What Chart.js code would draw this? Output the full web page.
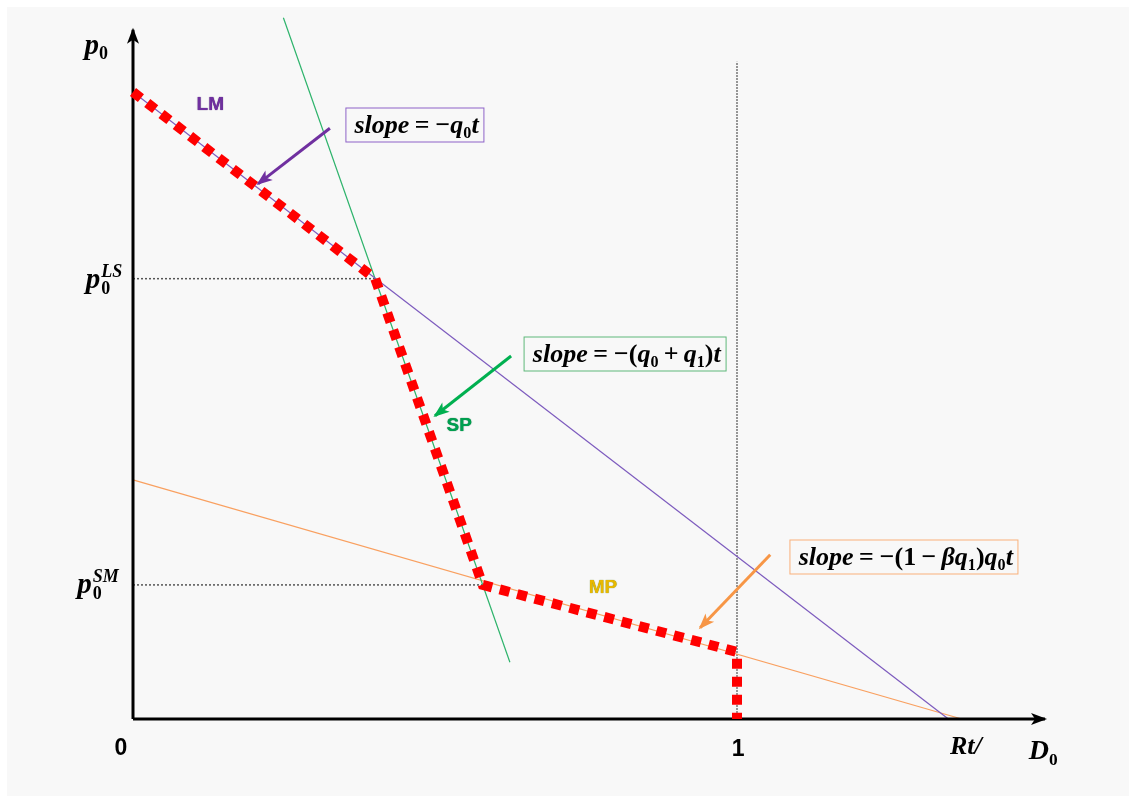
<!DOCTYPE html>
<html>
<head>
<meta charset="utf-8">
<script src="https://cdn.jsdelivr.net/npm/chart.js@4.4.1/dist/chart.umd.min.js"></script>
<style>
    html, body { margin: 0; padding: 0; background: #ffffff; }
    #wrap { position: relative; width: 1136px; height: 802px; overflow: hidden; }
    #paper { position: absolute; left: 7px; top: 7px; width: 1122px; height: 789px; background: #f8f8f8; }
    #diagram { position: absolute; left: 0; top: 0; }
    .lbl { position: absolute; transform: translate(-50%, -50%); white-space: nowrap; line-height: 1; }
    .math { font-family: "Liberation Serif", "DejaVu Serif", serif; font-weight: bold; font-style: italic; color: #000; }
    .math .up { font-style: normal; }
    .math sub { font-size: 0.62em; font-style: normal; vertical-align: -0.32em; line-height: 0; }
    .ss { display: inline-flex; flex-direction: column; vertical-align: 11px; margin-left: 1px; }
    .ss .sp { font-size: 18px; line-height: 17px; }
    .ss .sb { font-size: 18px; line-height: 16px; font-style: normal; }
    .num { font-family: "Liberation Sans", Arial, sans-serif; font-weight: bold; font-size: 23px; color: #000; }
    .curve { font-family: "Liberation Sans", Arial, sans-serif; font-weight: bold; font-size: 19px; }
    .box { border: 1.5px solid; padding: 3px 5px 4px 8px; font-size: 26px; }
</style>
</head>
<body>
<div id="wrap">
    <div id="paper"></div>
    <canvas id="diagram" width="1136" height="802"></canvas>
</div>
<script>
// 座標：橫軸 D0（0 到 1 為一個單位），縱軸 p0 用同樣的單位長度
const P0_LS = 0.729;
const P0_SM = 0.222;

// 紅色粗虛線：實際的價格路徑（LM → SP → MP → 垂直掉到 D0 = 1）
const pathX = [0, 0.401, 0.579, 1, 1];
const pathY = [1.038, P0_LS, P0_SM, 0.111, 0];

// 三條細線
const lmX = [0, 1.35];
const lmY = [1.038, 0];
const spX = [0.249, 0.624];
const spY = [1.161, 0.094];
const mpX = [0, 1.372];
const mpY = [0.396, 0];

// D0 = 1 的垂直線、p0 的兩條水平參考線
const oneX = [1, 1];
const oneY = [0, 1.088];
const lsGuideX = [0, 0.401];
const lsGuideY = [P0_LS, P0_LS];
const smGuideX = [0, 0.579];
const smGuideY = [P0_SM, P0_SM];

// 座標軸（末端有箭頭）
const yAxisX = [0, 0];
const yAxisY = [0, 1.141];
const xAxisX = [0, 1.51];
const xAxisY = [0, 0];

// 指向曲線的說明箭頭（起點 → 箭頭端）
const lmArrowX = [0.326, 0.207];
const lmArrowY = [0.978, 0.886];
const spArrowX = [0.626, 0.5];
const spArrowY = [0.601, 0.502];
const mpArrowX = [1.055, 0.939];
const mpArrowY = [0.272, 0.151];

const X_MIN = -133 / 604;
const X_MAX = 1003 / 604;
const Y_MIN = -83 / 604;
const Y_MAX = 719 / 604;

function toPoints(xs, ys) {
    return xs.map((x, i) => ({ x: x, y: ys[i] }));
}

function line(xs, ys, color, width, extra) {
    return Object.assign({
        data: toPoints(xs, ys),
        showLine: true,
        borderColor: color,
        backgroundColor: color,
        borderWidth: width,
        pointRadius: 0,
        order: 5
    }, extra || {});
}

const datasets = [
    line(pathX, pathY, "#ff0000", 10, { borderDash: [10, 8], order: 0 }),
    line(lmArrowX, lmArrowY, "#7030a0", 3, { arrowHead: true, order: 1 }),
    line(spArrowX, spArrowY, "#00b050", 3, { arrowHead: true, order: 1 }),
    line(mpArrowX, mpArrowY, "#f79646", 3, { arrowHead: true, order: 1 }),
    line(yAxisX, yAxisY, "#000000", 3, { arrowHead: true, order: 2 }),
    line(xAxisX, xAxisY, "#000000", 3, { arrowHead: true, order: 2 }),
    line(lmX, lmY, "#7d5bbe", 1.2),
    line(spX, spY, "#2db36b", 1.2),
    line(mpX, mpY, "#f9a060", 1.2),
    line(oneX, oneY, "#555555", 1.2, { borderDash: [2, 1] }),
    line(lsGuideX, lsGuideY, "#555555", 1.5, { borderDash: [2, 2] }),
    line(smGuideX, smGuideY, "#555555", 1.5, { borderDash: [2, 2] })
];

// 線段末端畫實心箭頭
const arrowHeadPlugin = {
    id: "arrowHeads",
    afterDatasetsDraw(chart) {
        const ctx = chart.ctx;
        chart.data.datasets.forEach((ds, i) => {
            if (!ds.arrowHead) return;
            const pts = chart.getDatasetMeta(i).data;
            const a = pts[pts.length - 2];
            const b = pts[pts.length - 1];
            const angle = Math.atan2(b.y - a.y, b.x - a.x);
            const len = 14;
            const half = 6;
            ctx.save();
            ctx.translate(b.x, b.y);
            ctx.rotate(angle);
            ctx.fillStyle = ds.borderColor;
            ctx.beginPath();
            ctx.moveTo(2, 0);
            ctx.lineTo(-len, -half);
            ctx.lineTo(-len + 4, 0);
            ctx.lineTo(-len, half);
            ctx.closePath();
            ctx.fill();
            ctx.restore();
        });
    }
};

// 文字標籤（放在資料座標上，畫完之後再擺到對應位置）
const LABELS = [
    { html: '<i>p</i><sub>0</sub>', x: -0.061, y: 1.118, cls: "math", size: 29 },
    { html: '<i>p</i><span class="ss"><span class="sp">LS</span><span class="sb">0</span></span>', x: -0.048, y: 0.728, cls: "math", size: 29 },
    { html: '<i>p</i><span class="ss"><span class="sp">SM</span><span class="sb">0</span></span>', x: -0.058, y: 0.224, cls: "math", size: 29 },
    { html: '0', x: -0.02, y: -0.046, cls: "num" },
    { html: '1', x: 1.002, y: -0.048, cls: "num" },
    { html: 'Rt/', x: 1.379, y: -0.045, cls: "math", size: 26 },
    { html: 'D<sub>0</sub>', x: 1.507, y: -0.051, cls: "math", size: 28 },
    { html: 'LM', x: 0.128, y: 1.02, cls: "curve", color: "#7030a0", shadow: "0 0 1px #3a1060" },
    { html: 'SP', x: 0.54, y: 0.488, cls: "curve", color: "#00a050", shadow: "0 0 1px #006030" },
    { html: 'MP', x: 0.778, y: 0.22, cls: "curve", color: "#e8b800", shadow: "0 0 1px #5a7a00" },
    { html: 'slope&thinsp;=&thinsp;&minus;<i>q</i><sub>0</sub><i>t</i>', x: 0.467, y: 0.983, cls: "math box", border: "#8e63c8" },
    { html: 'slope&thinsp;=&thinsp;&minus;<span class="up">(</span>q<sub>0</sub>&thinsp;<span class="up">+</span>&thinsp;q<sub>1</sub><span class="up">)</span>t', x: 0.815, y: 0.604, cls: "math box", border: "#5fb87a" },
    { html: 'slope&thinsp;=&thinsp;&minus;<span class="up">(1&thinsp;&minus;&thinsp;</span>&beta;q<sub>1</sub><span class="up">)</span>q<sub>0</sub>t', x: 1.277, y: 0.268, cls: "math box", border: "#f9b07a" }
];

const labelPlugin = {
    id: "htmlLabels",
    afterRender(chart) {
        const wrap = document.getElementById("wrap");
        wrap.querySelectorAll(".lbl").forEach((el) => el.remove());
        LABELS.forEach((item) => {
            const el = document.createElement("div");
            el.className = "lbl " + item.cls;
            el.innerHTML = item.html;
            el.style.left = chart.scales.x.getPixelForValue(item.x) + "px";
            el.style.top = chart.scales.y.getPixelForValue(item.y) + "px";
            if (item.size) el.style.fontSize = item.size + "px";
            if (item.color) el.style.color = item.color;
            if (item.shadow) el.style.textShadow = item.shadow;
            if (item.border) el.style.borderColor = item.border;
            wrap.appendChild(el);
        });
    }
};

new Chart(document.getElementById("diagram"), {
    type: "scatter",
    data: { datasets: datasets },
    options: {
        responsive: false,
        animation: false,
        devicePixelRatio: 1,
        layout: { padding: 0 },
        plugins: { legend: { display: false }, tooltip: { enabled: false } },
        scales: {
            x: { type: "linear", min: X_MIN, max: X_MAX, display: false },
            y: { type: "linear", min: Y_MIN, max: Y_MAX, display: false }
        }
    },
    plugins: [arrowHeadPlugin, labelPlugin]
});
</script>
</body>
</html>
